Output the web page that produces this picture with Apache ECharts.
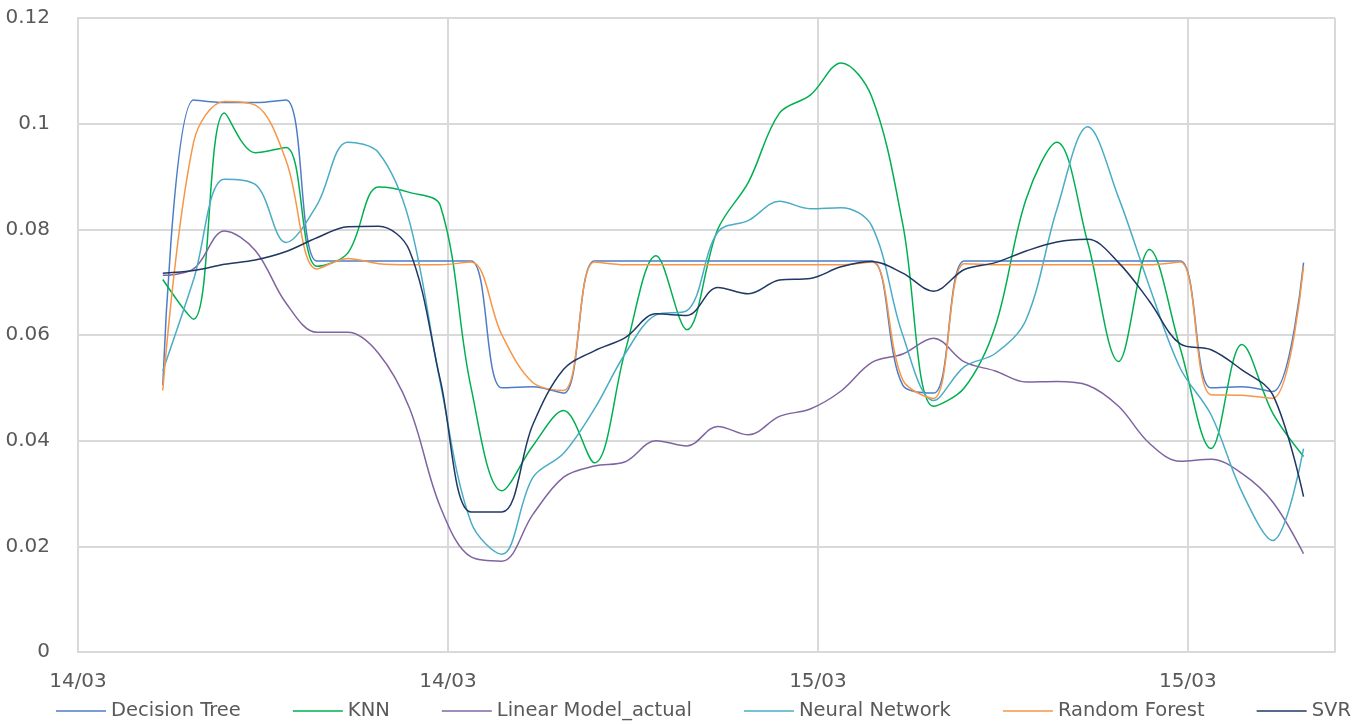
<!DOCTYPE html>
<html>
<head>
<meta charset="utf-8">
<script src="https://cdn.jsdelivr.net/npm/echarts@6/dist/echarts.min.js"></script>
<style>
  html, body { margin: 0; padding: 0; background: #fff; }
  #chart { width: 1355px; height: 724px; }
</style>
</head>
<body>
<div id="chart"></div>
<script>
// hourly samples, first one at 14/03 02:45 (hours counted from 14/03 00:00)
const firstHour = 2.75;
const dayLabels = ['14/03', '15/03'];

const decisionTree = [0.0505, 0.1045, 0.104, 0.104, 0.1045, 0.074, 0.074, 0.074, 0.074, 0.074,
  0.074, 0.050, 0.0502, 0.049, 0.074, 0.074, 0.074, 0.074, 0.074, 0.074,
  0.074, 0.074, 0.074, 0.074, 0.0505, 0.049, 0.074, 0.074, 0.074, 0.074,
  0.074, 0.074, 0.074, 0.074, 0.050, 0.0502, 0.0493, 0.0737];
const knn = [0.0705, 0.063, 0.102, 0.0945, 0.0955, 0.073, 0.0755, 0.088, 0.087, 0.0845,
  0.050, 0.0305, 0.039, 0.0457, 0.0358, 0.057, 0.075, 0.061, 0.080, 0.089,
  0.102, 0.1054, 0.1115, 0.105, 0.081, 0.0465, 0.050, 0.0616, 0.0857, 0.0965,
  0.0775, 0.055, 0.0762, 0.0575, 0.0385, 0.0582, 0.0452, 0.037];
const linearModel = [0.0713, 0.0725, 0.0797, 0.076, 0.066, 0.0605, 0.0605, 0.0565, 0.0462, 0.0275,
  0.018, 0.0172, 0.026, 0.0331, 0.0352, 0.036, 0.040, 0.039, 0.0427, 0.0411,
  0.0446, 0.046, 0.0494, 0.0548, 0.0564, 0.0594, 0.0549, 0.0532, 0.0511, 0.0512,
  0.0505, 0.0465, 0.0395, 0.0361, 0.0365, 0.0338, 0.0284, 0.0186];
const neuralNetwork = [0.0532, 0.0705, 0.0895, 0.0885, 0.0775, 0.0846, 0.0965, 0.0945, 0.0815, 0.051,
  0.0245, 0.0185, 0.033, 0.0376, 0.046, 0.0565, 0.0638, 0.0646, 0.0795, 0.0817,
  0.0853, 0.0839, 0.0841, 0.0806, 0.060, 0.0476, 0.054, 0.0565, 0.0629, 0.0838,
  0.0994, 0.086, 0.0692, 0.0537, 0.0449, 0.0303, 0.0211, 0.0385];
const randomForest = [0.0495, 0.0965, 0.1042, 0.1035, 0.093, 0.0725, 0.0745, 0.0735, 0.0733, 0.0733,
  0.0738, 0.060, 0.051, 0.0495, 0.0738, 0.0733, 0.0733, 0.0733, 0.0733, 0.0733,
  0.0733, 0.0733, 0.0733, 0.0738, 0.0515, 0.048, 0.0735, 0.0733, 0.0733, 0.0733,
  0.0733, 0.0733, 0.0733, 0.0738, 0.0487, 0.0486, 0.048, 0.073];
const svr = [0.0717, 0.0722, 0.0734, 0.0742, 0.0758, 0.0784, 0.0805, 0.0806, 0.076, 0.0515,
  0.0265, 0.0265, 0.043, 0.0535, 0.057, 0.0595, 0.064, 0.0637, 0.069, 0.0678,
  0.0704, 0.0707, 0.0729, 0.0739, 0.0717, 0.0683, 0.0724, 0.0737, 0.0759, 0.0776,
  0.0781, 0.0737, 0.0664, 0.0583, 0.0572, 0.0534, 0.0487, 0.0294];

const seriesNames = ['Decision Tree', 'KNN', 'Linear Model_actual', 'Neural Network', 'Random Forest', 'SVR'];
const seriesValues = [decisionTree, knn, linearModel, neuralNetwork, randomForest, svr];
const seriesColors = ['#4F7CC7', '#00B050', '#8064A2', '#4BACC6', '#F79646', '#1F3864'];

const chart = echarts.init(document.getElementById('chart'));
const gray = '#595959';
const gridColor = '#d9d9d9';
const font = 'DejaVu Sans';

chart.setOption({
  animation: false,
  grid: { left: 78, right: 20, top: 18, bottom: 72 },
  legend: {
    left: 56,
    top: 701,
    width: 1320,
    padding: 0,
    icon: 'rect',
    itemWidth: 50,
    itemHeight: 1.5,
    itemGap: 52,
    textStyle: { fontFamily: font, fontSize: 19.5, color: gray },
    data: seriesNames
  },
  xAxis: {
    type: 'value',
    min: 0,
    max: 40.77,
    interval: 12,
    axisLine: { show: true, lineStyle: { color: gridColor, width: 2 } },
    axisTick: { show: false },
    splitLine: { show: true, lineStyle: { color: gridColor, width: 2 } },
    axisLabel: {
      color: gray,
      fontFamily: font,
      fontSize: 20,
      margin: 20,
      showMaxLabel: false,
      formatter: v => dayLabels[Math.floor(v / 24)]
    }
  },
  yAxis: {
    type: 'value',
    min: 0,
    max: 0.12,
    interval: 0.02,
    axisLine: { show: true, lineStyle: { color: gridColor, width: 2 } },
    axisTick: { show: false },
    splitLine: { lineStyle: { color: gridColor, width: 2 } },
    axisLabel: {
      color: gray,
      fontFamily: font,
      fontSize: 20,
      margin: 28,
      formatter: v => (v === 0 ? '0' : String(+v.toFixed(2)))
    }
  },
  series: seriesNames.map((name, s) => ({
    name: name,
    type: 'line',
    smooth: 0.35,
    symbol: 'none',
    color: seriesColors[s],
    lineStyle: { width: 1.5, color: seriesColors[s] },
    data: seriesValues[s].map((v, i) => [firstHour + i, v])
  }))
});
</script>
</body>
</html>
